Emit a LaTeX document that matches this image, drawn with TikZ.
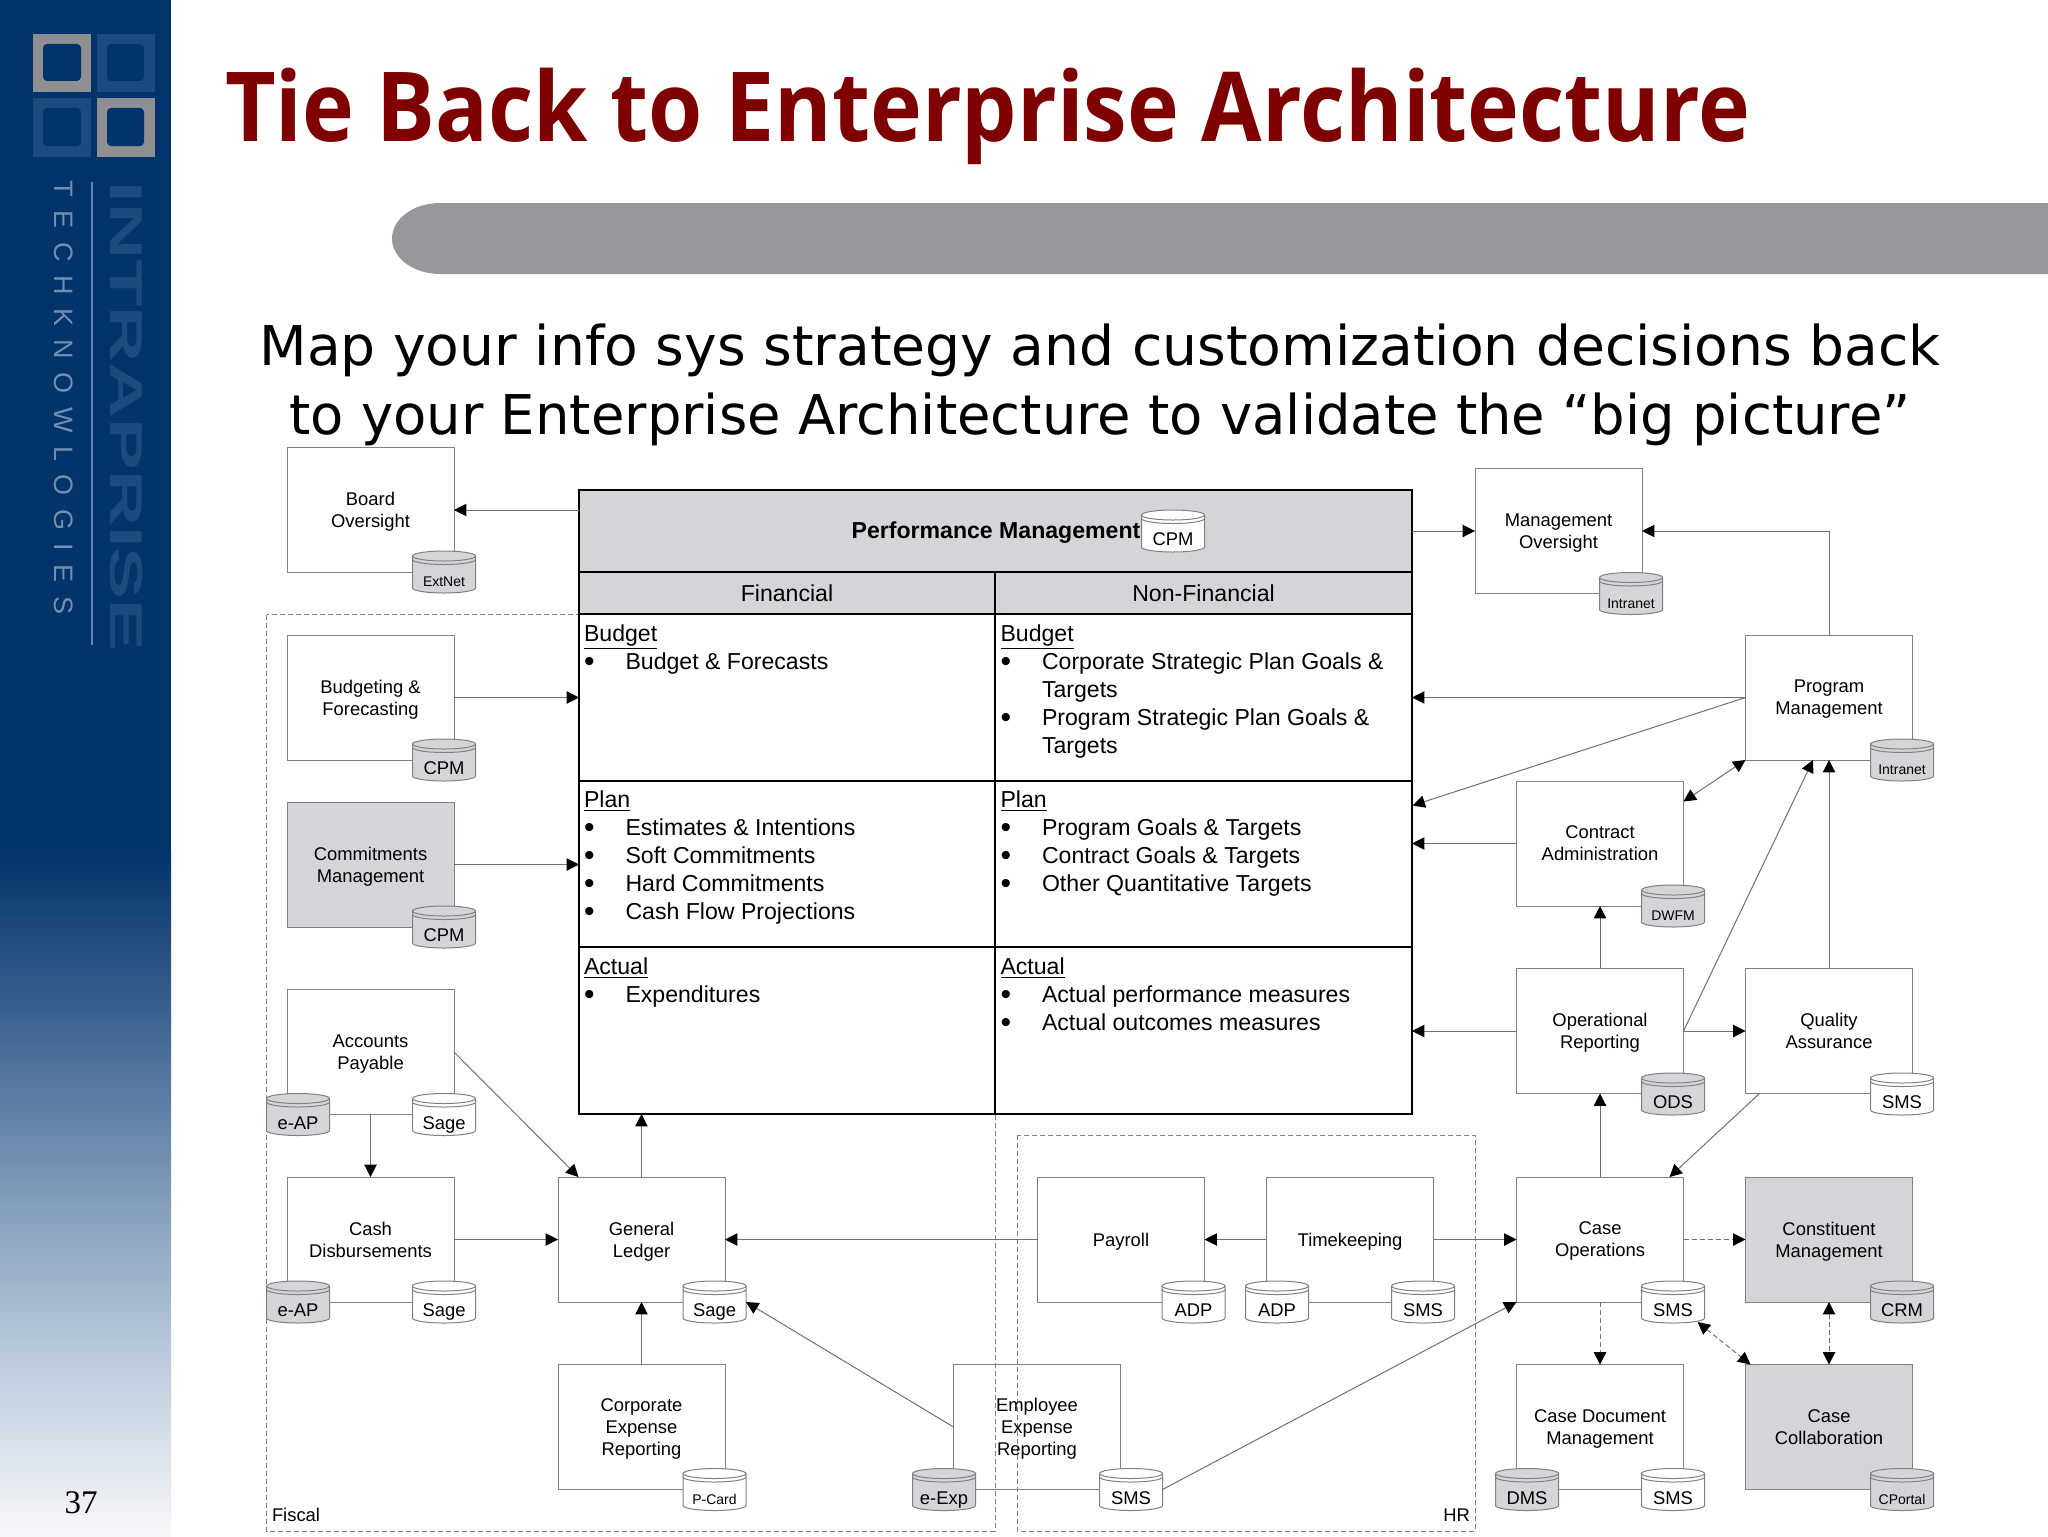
\documentclass[tikz,border=0pt]{standalone}
\usepackage{graphicx}
\usepackage{fontspec}
\setmainfont{Liberation Sans}
\newfontfamily\dejavu{DejaVu Sans}
\newfontfamily\opensans{Open Sans}
\newfontfamily\libserif{Liberation Serif}
\usetikzlibrary{arrows.meta,calc}
\definecolor{navy}{HTML}{02336B}
\definecolor{navylight}{HTML}{1C4A80}
\definecolor{logogray}{HTML}{8F8F92}
\definecolor{pillgray}{HTML}{98969A}
\definecolor{titlered}{HTML}{7F0000}
\definecolor{linegray}{HTML}{707070}
\definecolor{dashgray}{HTML}{808080}
\definecolor{softgray}{HTML}{D6D4D8}
\definecolor{edgegray}{HTML}{808080}
\definecolor{gradb}{HTML}{3E6490}
\definecolor{gradc}{HTML}{7B97B7}
\definecolor{gradd}{HTML}{B5C6D8}
\definecolor{grade}{HTML}{ECEFF4}
\definecolor{gradf}{HTML}{F7F8FA}
\newcommand\smallfont{\fontsize{7}{8.4}\selectfont}
\newcommand\normfont{\fontsize{9.2}{11}\selectfont}
\newcommand\cellfont{\fontsize{11.55}{14}\selectfont}
\newcommand\Bul{\makebox[20.75pt][l]{\raisebox{-1.2pt}{\scalebox{1.3}{•}}}}
\newcommand\Ind{\hspace*{20.75pt}}
% name, x, y, fill, font, text
\newcommand\Cyl[6]{%
  \begin{scope}[shift={(#2,#3)}]
    \path[cylshape,fill=#4] (-31.5,-16) arc[start angle=180,end angle=0,x radius=15.75pt,y radius=2.5pt]
      -- (31.5,16) arc[start angle=0,end angle=-180,x radius=15.75pt,y radius=2.5pt] -- cycle;
    \path[cylshape] (-31.5,-16) arc[start angle=180,end angle=360,x radius=15.75pt,y radius=2.5pt];
    \path[cylshape] (-31.5,-12.5) arc[start angle=180,end angle=360,x radius=15.75pt,y radius=2.5pt];
    \node[cylarea] (#1) at (0,0) {};
    \node[cyllabel,font=#5] (#1-label) at (0,14.5) {#6};
  \end{scope}}
\tikzset{
  cylshape/.style={draw=edgegray,line width=.5pt},
  cylarea/.style={inner sep=0,outer sep=0,minimum width=31.5pt,minimum height=21pt},
  cyllabel/.style={inner sep=0,outer sep=0,anchor=base},
  sysbox/.style={draw=edgegray,line width=.5pt,fill=white,inner sep=0,outer sep=0,text depth=0pt,
    minimum width=83.5pt,minimum height=62.5pt,align=center,font=\normfont},
  opensys/.style={sysbox,fill=none},
  shadedsys/.style={sysbox,fill=softgray},
  tcell/.style={draw=black,line width=1pt,fill=white,inner sep=0,outer sep=0,font=\cellfont},
  ttext/.style={inner sep=0,outer sep=0,anchor=north west,align=left,font=\cellfont},
  conn/.style={draw=linegray,line width=.5pt,->},
  dconn/.style={draw=linegray,line width=.5pt,->,dash pattern=on 2.5pt off 1.5pt},
  frame/.style={draw=dashgray,line width=.5pt,dash pattern=on 2.5pt off 1.5pt},
  tag/.style={inner sep=0,outer sep=0,font=\normfont},
  >={Triangle[length=6.2pt,width=6.2pt,color=black]}
}
\begin{document}
\begin{tikzpicture}[x=0.5pt,y=-0.5pt]
\useasboundingbox (0,0) rectangle (2048,1536);
% sidebar
\path[fill=navy] (0,0) rectangle (171,851);
\shade[top color=navy,bottom color=gradb] (0,850) rectangle (171,1021);
\shade[top color=gradb,bottom color=gradc] (0,1020) rectangle (171,1181);
\shade[top color=gradc,bottom color=gradd] (0,1180) rectangle (171,1341);
\shade[top color=gradd,bottom color=grade] (0,1340) rectangle (171,1501);
\shade[top color=grade,bottom color=gradf] (0,1500) rectangle (171,1536);
% logo
\path[fill=logogray] (32.7,34.5) rectangle (91.3,91.7);
\path[fill=navy,rounded corners=2pt] (43,44) rectangle (81,81);
\path[fill=navylight] (97,34.5) rectangle (155,91.7);
\path[fill=navy,rounded corners=2pt] (107,44) rectangle (144,81);
\path[fill=navylight] (32.7,98.5) rectangle (91.3,156.5);
\path[fill=navy,rounded corners=2pt] (43,108) rectangle (81,146);
\path[fill=logogray] (97,98.5) rectangle (155,156.5);
\path[fill=navy,rounded corners=2pt] (107,108) rectangle (144,146);
\path[draw=navy!60!white,line width=.8pt] (92,182) -- (92,645);
\node[rotate=-90,inner sep=0,text=navy!55!white,font=\fontsize{13.3}{14}\selectfont] (brandb) at (64,397.5)
  {\resizebox{216.5pt}{\height}{\addfontfeature{LetterSpace=50}TECHKNOWLOGIES}};
\node[rotate=-90,inner sep=0,text=navylight,font=\bfseries\fontsize{23}{24}\selectfont] (branda) at (126.5,416.5)
  {\resizebox{235pt}{\height}{INTRAPRISE}};
\node[inner sep=0,font=\libserif\fontsize{16.5}{18}\selectfont] (pageno) at (81,1503) {37};
% title
\node[anchor=base,inner sep=0,text=titlered,font=\opensans\bfseries\fontsize{48.3}{50}\selectfont] (title) at (987.5,141)
  {\resizebox{762.5pt}{\height}{Tie Back to Enterprise Architecture}};
\path[fill=pillgray] (2048,203) -- (440,203) arc[start angle=90,end angle=270,x radius=24pt,y radius=17.75pt] -- (2048,274) -- cycle;
\node[anchor=base,inner sep=0,font=\dejavu\fontsize{27.4}{30}\selectfont] (subone) at (1100,365)
  {\resizebox{840.5pt}{\height}{Map your info sys strategy and customization decisions back}};
\node[anchor=base,inner sep=0,font=\dejavu\fontsize{27.4}{30}\selectfont] (subtwo) at (1100,434)
  {\resizebox{810.5pt}{\height}{to your Enterprise Architecture to validate the “big picture”}};
% dashed frames
\path[frame] (266.5,614.5) rectangle (995,1531);
\path[frame] (1017,1135) rectangle (1475,1531);
\node[tag,anchor=base west] (fiscal) at (272,1521) {Fiscal};
\node[tag,anchor=base east] (hr) at (1470,1521) {HR};
% table
\node[tcell,fill=softgray,minimum width=416.5pt,minimum height=41pt] (pm) at (995.5,531) {};
\node[inner sep=0,font=\bfseries\cellfont] (pmtext) at (996,532.5) {Performance Management};
\node[tcell,fill=softgray,minimum width=208pt,minimum height=21pt] (fin) at (787,593) {Financial};
\node[tcell,fill=softgray,minimum width=208.5pt,minimum height=21pt] (nonfin) at (1203.5,593) {Non-Financial};
\node[tcell,minimum width=208pt,minimum height=83.5pt] (budL) at (787,697.5) {};
\node[tcell,minimum width=208.5pt,minimum height=83.5pt] (budR) at (1203.5,697.5) {};
\node[tcell,minimum width=208pt,minimum height=83pt] (planL) at (787,864) {};
\node[tcell,minimum width=208.5pt,minimum height=83pt] (planR) at (1203.5,864) {};
\node[tcell,minimum width=208pt,minimum height=83.5pt] (actL) at (787,1030.5) {};
\node[tcell,minimum width=208.5pt,minimum height=83.5pt] (actR) at (1203.5,1030.5) {};
\node[ttext] (budLt) at (584,624.5) {\underline{Budget}\\\Bul Budget \& Forecasts};
\node[ttext] (budRt) at (1000.5,624.5) {\underline{Budget}\\\Bul Corporate Strategic Plan Goals \&\\\Ind Targets\\\Bul Program Strategic Plan Goals \&\\\Ind Targets};
\node[ttext] (planLt) at (584,790.5) {\underline{Plan}\\\Bul Estimates \& Intentions\\\Bul Soft Commitments\\\Bul Hard Commitments\\\Bul Cash Flow Projections};
\node[ttext] (planRt) at (1000.5,790.5) {\underline{Plan}\\\Bul Program Goals \& Targets\\\Bul Contract Goals \& Targets\\\Bul Other Quantitative Targets};
\node[ttext] (actLt) at (584,957.5) {\underline{Actual}\\\Bul Expenditures};
\node[ttext] (actRt) at (1000.5,957.5) {\underline{Actual}\\\Bul Actual performance measures\\\Bul Actual outcomes measures};
% boxes
\node[sysbox] (board) at (370.5,510) {Board\\Oversight};
\node[sysbox] (mgmt) at (1558.5,531) {Management\\Oversight};
\node[sysbox] (budg) at (370.5,697.5) {Budgeting \&\\Forecasting};
\node[shadedsys] (commit) at (370.5,864.5) {Commitments\\Management};
\node[sysbox] (ap) at (370.5,1052) {Accounts\\Payable};
\node[sysbox] (cash) at (370.5,1239.5) {Cash\\Disbursements};
\node[sysbox] (gl) at (641.5,1239.5) {General\\Ledger};
\node[sysbox] (corp) at (641.5,1427) {Corporate\\Expense\\Reporting};
\node[opensys] (empl) at (1037,1427) {Employee\\Expense\\Reporting};
\node[sysbox] (payroll) at (1121,1239.5) {Payroll};
\node[sysbox] (tk) at (1350,1239.5) {Timekeeping};
\node[sysbox] (caseops) at (1600,1239.5) {Case\\Operations};
\node[shadedsys] (const) at (1829,1239.5) {Constituent\\Management};
\node[sysbox] (doc) at (1600,1427) {Case Document\\Management};
\node[shadedsys] (collab) at (1829,1427) {Case\\Collaboration};
\node[sysbox] (prog) at (1829,697.5) {Program\\Management};
\node[sysbox] (contract) at (1600,843.5) {Contract\\Administration};
\node[sysbox] (oprep) at (1600,1031) {Operational\\Reporting};
\node[sysbox] (qa) at (1829,1031) {Quality\\Assurance};
% connectors
\draw[conn] (pm.west |- board.east) -- (board.east);
\draw[conn] (pm.east) -- (mgmt.west);
\draw[conn] (prog.north) |- (mgmt.east);
\draw[conn] (budg.east) -- (budL.west);
\draw[conn] (commit.east) -- (planL.west |- commit.east);
\draw[conn] (ap.east) -- ($(gl.north west)+(20.5,0)$);
\draw[conn] (ap.south) -- (cash.north);
\draw[conn] (cash.east) -- (gl.west);
\draw[conn] (gl.north) -- (gl.north |- actL.south);
\draw[conn] (payroll.west) -- (gl.east);
\draw[conn] (corp.north) -- (gl.south);
\draw[conn] (tk.west) -- (payroll.east);
\draw[conn] (tk.east) -- (caseops.west);
\draw[conn] (caseops.north) -- (oprep.south);
\draw[conn] ($(qa.south west)+(14,0)$) -- ($(caseops.north east)+(-14,0)$);
\draw[dconn] (caseops.east) -- (const.west);
\draw[dconn] (caseops.south) -- (doc.north);
\draw[dconn,<->] (const.south) -- (collab.north);
\draw[conn] (oprep.west) -- (actR.east |- oprep.west);
\draw[conn] (oprep.east) -- (qa.west);
\draw[conn] (oprep.north) -- (contract.south);
\draw[conn] (oprep.east) -- ($(prog.south)+(-16,0)$);
\draw[conn] (qa.north) -- (prog.south);
\draw[conn,<->] (prog.south west) -- ($(contract.north east)+(0,20.5)$);
\draw[conn] (prog.west) -- (budR.east);
\draw[conn] (prog.west) -- ($(planR.north east)+(0.5,24.5)$);
\draw[conn] (contract.west) -- (planR.east |- contract.west);
% databases
\Cyl{dbpm}{1173}{531}{white}{\normfont}{CPM}
\Cyl{dbboard}{444}{572}{softgray}{\smallfont}{ExtNet}
\Cyl{dbmgmt}{1631}{593.5}{softgray}{\smallfont}{Intranet}
\Cyl{dbbudg}{444}{760}{softgray}{\normfont}{CPM}
\Cyl{dbcommit}{444}{927}{softgray}{\normfont}{CPM}
\Cyl{dbapa}{298}{1114.5}{softgray}{\normfont}{e-AP}
\Cyl{dbapb}{444}{1114.5}{white}{\normfont}{Sage}
\Cyl{dbcasha}{298}{1302}{softgray}{\normfont}{e-AP}
\Cyl{dbcashb}{444}{1302}{white}{\normfont}{Sage}
\Cyl{dbgl}{714.5}{1302}{white}{\normfont}{Sage}
\Cyl{dbcorp}{714.5}{1489.5}{white}{\smallfont}{P-Card}
\Cyl{dbempla}{944}{1489.5}{softgray}{\normfont}{e-Exp}
\Cyl{dbemplb}{1131}{1489.5}{white}{\normfont}{SMS}
\Cyl{dbpayroll}{1193.5}{1302}{white}{\normfont}{ADP}
\Cyl{dbtka}{1277}{1302}{white}{\normfont}{ADP}
\Cyl{dbtkb}{1423}{1302}{white}{\normfont}{SMS}
\Cyl{dbcase}{1673}{1302}{white}{\normfont}{SMS}
\Cyl{dbconst}{1902}{1302}{softgray}{\normfont}{CRM}
\Cyl{dbdoca}{1527}{1489.5}{softgray}{\normfont}{DMS}
\Cyl{dbdocb}{1673}{1489.5}{white}{\normfont}{SMS}
\Cyl{dbcollab}{1902}{1489.5}{softgray}{\smallfont}{CPortal}
\Cyl{dbprog}{1902}{760}{softgray}{\smallfont}{Intranet}
\Cyl{dbcontract}{1673}{906}{softgray}{\smallfont}{DWFM}
\Cyl{dboprep}{1673}{1094}{softgray}{\normfont}{ODS}
\Cyl{dbqa}{1902}{1094}{white}{\normfont}{SMS}
% connectors that end on databases
\draw[conn] (empl.west) -- (dbgl.east);
\draw[conn] (dbemplb.east) -- (caseops.south west);
\draw[dconn,<->] ($(dbcase.south east)+(-7,-1)$) -- ($(collab.north west)+(5,0)$);
\end{tikzpicture}
\end{document}
